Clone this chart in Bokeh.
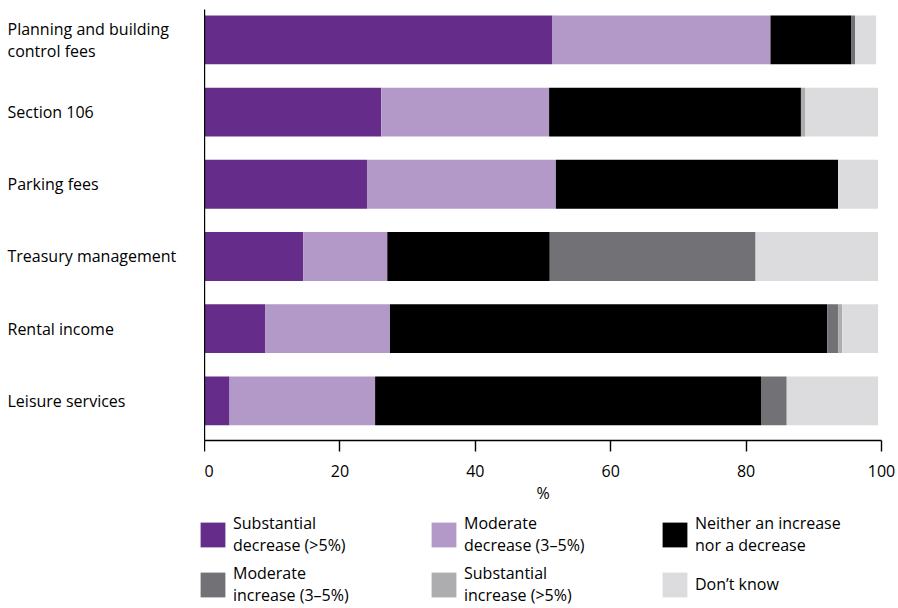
from bokeh.plotting import figure
from bokeh.models import Range1d, Legend, LegendItem, ColumnDataSource
from bokeh.layouts import row, column
from bokeh.core.properties import value
from bokeh.embed import file_html
from bokeh.resources import INLINE

categories = ["Planning and building\ncontrol fees", "Section 106", "Parking fees",
              "Treasury management", "Rental income", "Leisure services"]
series_names = ["Substantial\ndecrease (>5%)", "Moderate\ndecrease (3–5%)",
                "Neither an increase\nnor a decrease", "Moderate\nincrease (3–5%)",
                "Substantial\nincrease (>5%)", "Don’t know"]
substantial_decrease = [51.4, 26.1, 24.0, 14.6, 9.0, 3.7]
moderate_decrease = [32.2, 24.8, 27.9, 12.4, 18.4, 21.5]
neither = [11.9, 37.2, 41.7, 24.0, 64.6, 57.0]
moderate_increase = [0.6, 0.0, 0.0, 30.4, 1.6, 3.8]
substantial_increase = [0.0, 0.6, 0.0, 0.0, 0.6, 0.0]
dont_know = [3.1, 10.8, 5.9, 18.1, 5.3, 13.5]
colors = ["#652d89", "#b399c7", "#000000", "#727276", "#adadaf", "#dcdcde"]
x_ticks = [0, 20, 40, 60, 80, 100]

FONT = "Open Sans"
n = len(categories)
ypos = [n - 1 - i for i in range(n)]
keys = ["sd", "md", "ne", "mi", "si", "dk"]
src = ColumnDataSource(dict(y=ypos, sd=substantial_decrease, md=moderate_decrease,
                            ne=neither, mi=moderate_increase, si=substantial_increase,
                            dk=dont_know))

TOP_H = 506
BOTTOM = 65
y_range = Range1d(-0.549, n - 1 + 0.421)

# category labels panel
lf = figure(width=204, height=TOP_H, output_backend="svg", toolbar_location=None,
            x_range=Range1d(0, 204), y_range=y_range,
            x_axis_location=None, y_axis_location=None,
            min_border_left=0, min_border_right=0, min_border_top=9, min_border_bottom=BOTTOM)
lf.outline_line_color = None
lf.grid.visible = False
lf.text(x=[7] * n, y=ypos, text=categories, text_font=value(FONT), text_font_size="16px",
        text_baseline="middle", text_align="left", text_color="black", text_line_height=1.0)

# main chart
p = figure(width=694, height=TOP_H, output_backend="svg", toolbar_location=None,
           x_range=Range1d(0, 100), y_range=y_range,
           min_border_left=0, min_border_right=17, min_border_top=9,
           min_border_bottom=BOTTOM)
p.outline_line_color = None
p.xgrid.visible = False
p.ygrid.visible = False

rs = p.hbar_stack(keys, y="y", height=0.677, color=colors, line_color=None, source=src)

p.xaxis.ticker = x_ticks
p.xaxis.axis_label = "%"
p.xaxis.axis_label_text_font_style = "normal"
p.xaxis.axis_label_text_font = FONT
p.xaxis.axis_label_text_font_size = "16px"
p.xaxis.axis_label_standoff = 2
p.xaxis.major_label_text_font = FONT
p.xaxis.major_label_text_font_size = "16px"
p.xaxis.major_label_standoff = 13
p.xaxis.major_tick_in = 0
p.xaxis.major_tick_out = 11
p.xaxis.minor_tick_line_color = None
p.xaxis.axis_line_color = "black"
p.xaxis.axis_line_width = 1.4
p.xaxis.major_tick_line_color = "black"
p.xaxis.major_tick_line_width = 1.4
p.xaxis.major_label_text_color = "black"
p.xaxis.axis_label_text_color = "black"

p.yaxis.ticker = []
p.yaxis.major_tick_out = 0
p.yaxis.major_tick_in = 0
p.yaxis.major_label_standoff = 0
p.yaxis.minor_tick_line_color = None
p.yaxis.axis_line_color = "black"
p.yaxis.axis_line_width = 1.4

# legend panel
lg = figure(width=898, height=608 - TOP_H, output_backend="svg", toolbar_location=None,
            x_range=Range1d(0, 1), y_range=Range1d(0, 1),
            x_axis_location=None, y_axis_location=None,
            min_border_left=197, min_border_right=0, min_border_top=6, min_border_bottom=0)
lg.outline_line_color = None
lg.grid.visible = False
placeholder = ColumnDataSource(dict(y=[float("nan")], right=[float("nan")]))
swatches = [lg.hbar(y="y", right="right", height=1, color=c, line_color=None, source=placeholder)
            for c in colors]
legend = Legend(items=[LegendItem(label=nm, renderers=[r]) for nm, r in zip(series_names, swatches)],
                orientation="horizontal", ncols=3, glyph_width=31, glyph_height=31,
                label_standoff=5, label_width=189, spacing=6, padding=0, margin=0,
                border_line_color=None, background_fill_alpha=0,
                label_text_font=FONT, label_text_font_size="16px",
                label_text_line_height=1.4,
                label_text_color="black", location="top_left")
lg.add_layout(legend, "center")

layout = column(row(lf, p, spacing=0), lg, spacing=0)
open("out.html", "w").write(file_html(layout, INLINE))
